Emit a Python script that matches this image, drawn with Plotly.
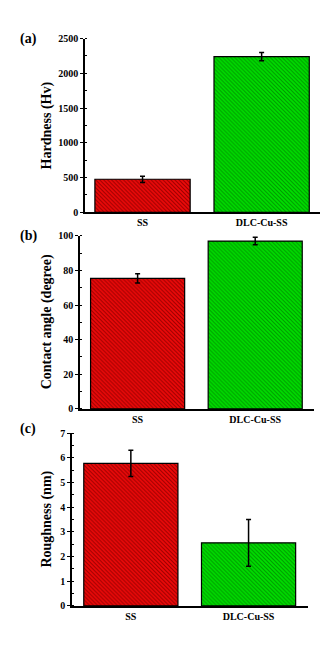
import plotly.graph_objects as go

categories = ["SS", "DLC-Cu-SS"]
hardness = [475, 2240]
hardness_err = [45, 60]
contact_angle = [75.4, 97.0]
contact_err = [2.7, 2.2]
roughness = [5.78, 2.56]
roughness_err = [0.53, 0.95]

bar_colors = ["#f00a0a", "#00e000"]
stripe_colors = ["#9a0000", "#009a00"]

W, H = 328, 652
FONT = "Liberation Serif"

def px_x(p):
    return p / W

def px_y(p):
    return 1 - p / H

panels = [
    dict(vals=hardness, err=hardness_err, title="Hardness (Hv)", label="(a)",
         x0=77, x1=312, y0=25, y1=202, yr=[0, 2500], dtick=500, minor=250,
         xr=[-0.483, 1.49], label_y=25),
    dict(vals=contact_angle, err=contact_err, title="Contact angle (degree)", label="(b)",
         x0=72, x1=306, y0=226, y1=402.3, yr=[0, 100], dtick=20, minor=10,
         xr=[-0.49, 1.50], label_y=226),
    dict(vals=roughness, err=roughness_err, title="Roughness (nm)", label="(c)",
         x0=64, x1=300, y0=427.2, y1=603, yr=[0, 7], dtick=1, minor=0.5,
         xr=[-0.50, 1.505], label_y=423),
]

fig = go.Figure()
annotations = []
layout = {}
for i, p in enumerate(panels, start=1):
    xa = "x" if i == 1 else f"x{i}"
    ya = "y" if i == 1 else f"y{i}"
    for j, cat in enumerate(categories):
        fig.add_trace(go.Bar(
            x=[cat], y=[p["vals"][j]],
            error_y=dict(type="data", array=[p["err"][j]], color="black",
                         thickness=1.5, width=2.5),
            marker=dict(color=bar_colors[j],
                        line=dict(color="black", width=1.2),
                        pattern=dict(shape="\\", size=2.8, solidity=0.4,
                                     fillmode="replace",
                                     bgcolor=bar_colors[j],
                                     fgcolor=stripe_colors[j])),
            width=0.8, xaxis=xa, yaxis=ya, showlegend=False,
        ))
    xkey = "xaxis" if i == 1 else f"xaxis{i}"
    ykey = "yaxis" if i == 1 else f"yaxis{i}"
    layout[xkey] = dict(
        domain=[px_x(p["x0"]), px_x(p["x1"])], anchor=ya,
        type="category", categoryorder="array", categoryarray=categories,
        range=p["xr"], showline=True, linecolor="black", linewidth=1.5,
        ticks="", showgrid=False, zeroline=False,
        tickfont=dict(family=FONT, size=10, color="black"),
    )
    layout[ykey] = dict(
        domain=[px_y(p["y1"]), px_y(p["y0"])], anchor=xa,
        range=p["yr"], dtick=p["dtick"], tick0=0,
        showline=True, linecolor="black", linewidth=1.5,
        ticks="outside", ticklen=3, tickwidth=1.2, tickcolor="black",
        minor=dict(dtick=p["minor"], ticks="inside", ticklen=2.5,
                   tickwidth=1, tickcolor="black", showgrid=False),
        showgrid=False, zeroline=False,
        tickfont=dict(family=FONT, size=10, color="black"),
    )
    annotations.append(dict(
        text=f"<b>{p['title']}</b>", textangle=-90,
        x=px_x(39), y=px_y((p["y0"] + p["y1"]) / 2),
        xref="paper", yref="paper", xanchor="center", yanchor="middle",
        showarrow=False, font=dict(family=FONT, size=14, color="black"),
    ))
    annotations.append(dict(
        text=f"<b>{p['label']}</b>",
        x=px_x(20), y=px_y(p["label_y"]),
        xref="paper", yref="paper", xanchor="center", yanchor="middle",
        showarrow=False, font=dict(family=FONT, size=14, color="black"),
    ))

fig.update_layout(
    width=W, height=H, autosize=False,
    margin=dict(l=0, r=0, t=0, b=0),
    paper_bgcolor="white", plot_bgcolor="white",
    font=dict(family=FONT, color="black"),
    annotations=annotations,
    bargap=0.2,
    **layout,
)
for i in range(1, 4):
    xk = "xaxis" if i == 1 else f"xaxis{i}"
    fig.layout[xk].ticktext = [f"<b>{c}</b>" for c in categories]
    fig.layout[xk].tickvals = categories
    yk = "yaxis" if i == 1 else f"yaxis{i}"
    fig.layout[yk].tickfont.weight = "bold"

fig.write_html("out.html")
